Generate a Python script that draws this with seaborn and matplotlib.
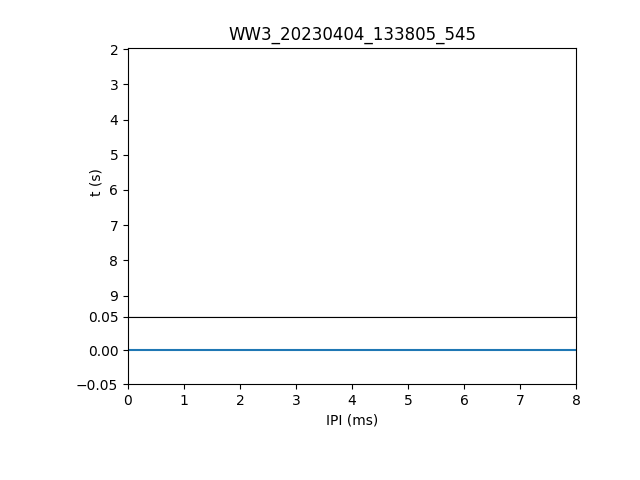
import numpy as np
import pandas as pd
import matplotlib
matplotlib.use("Agg")
import matplotlib.pyplot as plt
import seaborn as sns

# === Dữ liệu ===
title = "WW3_20230404_133805_545"
ipi_ms = [0, 8]
ipi_count = [0, 0]
t_range = (9.6, 1.97)   # trục t bị đảo ngược
t_ticks = [2, 3, 4, 5, 6, 7, 8, 9]

df = pd.DataFrame({"IPI (ms)": ipi_ms, "count": ipi_count})

fig = plt.figure(figsize=(6.4, 4.8), dpi=100)
gs = fig.add_gridspec(2, 1, height_ratios=[4, 1], hspace=0,
                      left=0.2, right=0.9, bottom=0.2, top=0.9)
ax_top = fig.add_subplot(gs[0])
ax_bot = fig.add_subplot(gs[1], sharex=ax_top)

# === Panel trên: t (s) ===
ax_top.set_ylim(*t_range)
ax_top.set_yticks(t_ticks)
ax_top.set_ylabel("t (s)")
ax_top.set_title(title)
ax_top.tick_params(axis="x", which="both", bottom=False, labelbottom=False)

# === Panel dưới: IPI ===
sns.lineplot(data=df, x="IPI (ms)", y="count", ax=ax_bot, color="#1f77b4")
ax_bot.set_xlim(0, 8)
ax_bot.set_ylim(-0.05, 0.05)
ax_bot.set_yticks([-0.05, 0.00, 0.05])
ax_bot.set_ylabel("")
ax_bot.set_xlabel("IPI (ms)")

fig.savefig("out.png", dpi=100)
